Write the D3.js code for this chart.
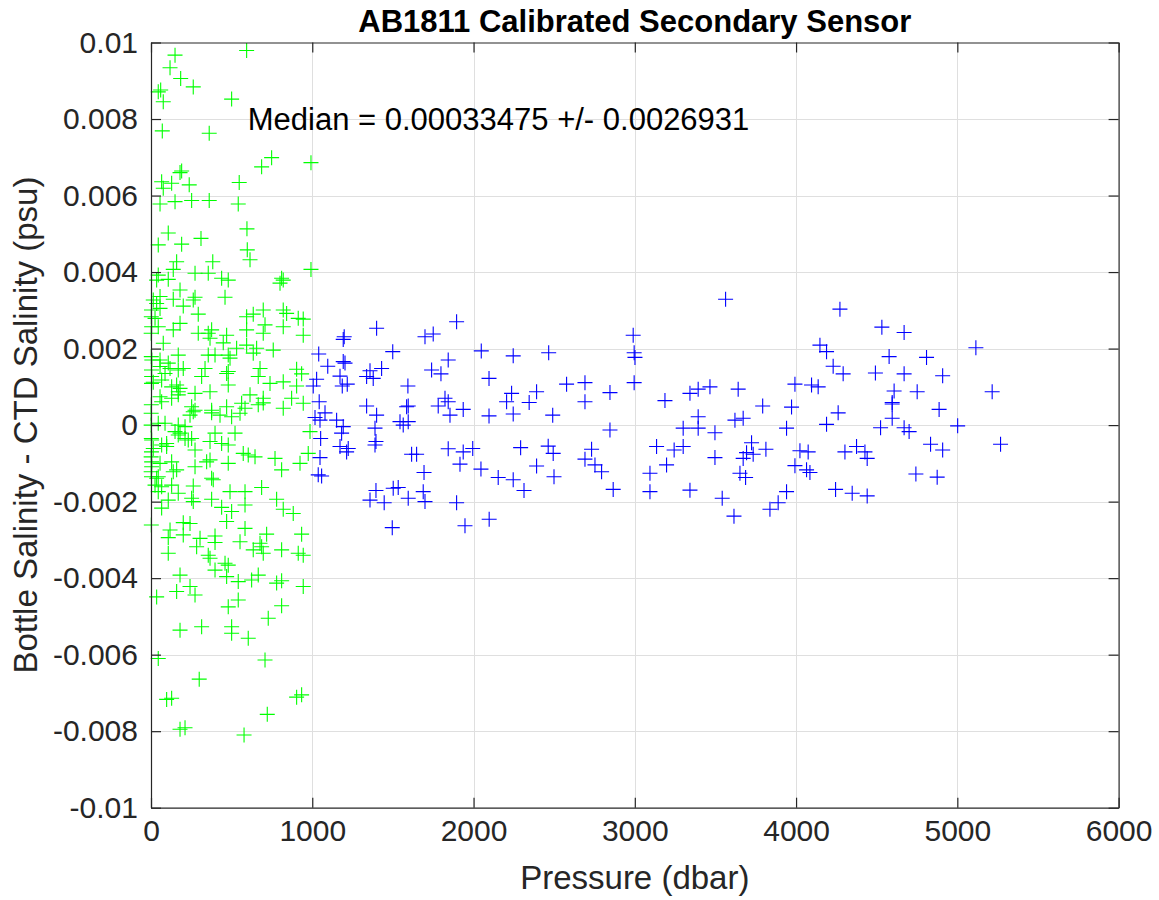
<!DOCTYPE html>
<html>
<head>
<meta charset="utf-8">
<script src="https://cdn.jsdelivr.net/npm/d3@7"></script>
<style>
  html, body { margin: 0; padding: 0; background: #ffffff; }
  svg { display: block; font-family: "Liberation Sans", Arial, Helvetica, sans-serif; }
</style>
</head>
<body>
<svg id="chart" width="1159" height="900"></svg>
<script>
// Residuals [pressure (dbar), bottle - CTD salinity (psu)], upper 1000 dbar
const shallowSamples = [
  [593,0.00979],[149,0.00967],[118,0.00934],[184,0.00906],[262,0.00884],[45,0.00871],[60,0.00876],[76,0.00845],
  [500,0.00852],[70,0.00769],[361,0.00763],[748,0.00699],[686,0.00675],[992,0.00686],[190,0.00664],[180,0.00660],
  [66,0.00636],[76,0.00619],[128,0.00632],[237,0.00628],[547,0.00634],[56,0.00578],[149,0.00584],[252,0.00587],
  [361,0.00587],[541,0.00578],[595,0.00513],[107,0.00502],[310,0.00488],[45,0.00471],[190,0.00473],[597,0.00458],
  [614,0.00432],[159,0.00427],[383,0.00427],[138,0.00407],[992,0.00407],[45,0.00392],[35,0.00379],[107,0.00381],
  [273,0.00397],[355,0.00397],[438,0.00384],[479,0.00379],[810,0.00384],[800,0.00371],[820,0.00379],[180,0.00353],
  [459,0.00334],[14,0.00327],[35,0.00318],[262,0.00327],[273,0.00334],[138,0.00329],[56,0.00336],[56,0.00305],
  [3,0.00301],[200,0.00311],[293,0.00290],[634,0.00290],[696,0.00301],[820,0.00301],[841,0.00292],[913,0.00279],
  [944,0.00277],[593,0.00283],[2,0.00283],[25,0.00279],[180,0.00266],[138,0.00249],[45,0.00257],[4,0.00257],
  [1,0.00240],[293,0.00240],[355,0.00240],[376,0.00249],[469,0.00235],[707,0.00262],[696,0.00240],[593,0.00249],
  [820,0.00257],[944,0.00235],[76,0.00214],[366,0.00227],[448,0.00215],[531,0.00201],[593,0.00209],[655,0.00201],
  [758,0.00196],[2,0.00179],[5,0.00170],[56,0.00170],[169,0.00183],[355,0.00183],[397,0.00183],[479,0.00183],
  [490,0.00175],[634,0.00188],[107,0.00162],[118,0.00148],[200,0.00148],[335,0.00148],[314,0.00127],[469,0.00135],
  [479,0.00140],[676,0.00148],[903,0.00146],[934,0.00134],[665,0.00127],[820,0.00113],[738,0.00109],[903,0.00102],
  [3,0.00109],[14,0.00112],[66,0.00118],[159,0.00105],[479,0.00105],[366,0.00087],[273,0.00083],[169,0.00079],
  [66,0.00061],[614,0.00079],[696,0.00070],[872,0.00070],[944,0.00057],[2,0.00053],[252,0.00048],[273,0.00039],
  [376,0.00039],[469,0.00048],[562,0.00057],[583,0.00044],[665,0.00053],[696,0.00058],[820,0.00044],[1,0.00031],
  [428,0.00026],[500,0.00022],[3,0.00144],[4,0.00127],[56,0.00153],[87,0.00135],[169,0.00144],[180,0.00096],
  [128,0.00100],[56,0.00074],[128,0.00070],[169,0.00087],[262,0.00035],[242,0.00026],[376,0.00032],[552,0.00031],
  [45,0.00005],[87,0.00005],[169,0.00000],[211,-0.00004],[149,-0.00017],[180,-0.00021],[2,-0.00035],[4,-0.00039],
  [66,-0.00052],[97,-0.00048],[231,-0.00039],[397,-0.00021],[366,-0.00043],[521,-0.00021],[438,-0.00048],[479,-0.00052],
  [3,-0.00070],[1,-0.00083],[4,-0.00096],[56,-0.00100],[128,-0.00096],[273,-0.00065],[345,-0.00096],[366,-0.00091],
  [479,-0.00100],[572,-0.00074],[603,-0.00078],[645,-0.00083],[769,-0.00087],[986,-0.00017],[975,-0.00074],[924,-0.00100],
  [810,-0.00117],[159,-0.00117],[138,-0.00122],[273,-0.00109],[45,-0.00135],[35,-0.00139],[3,-0.00135],[376,-0.00139],
  [386,-0.00143],[128,-0.00157],[66,-0.00161],[45,-0.00174],[262,-0.00159],[490,-0.00174],[583,-0.00174],[686,-0.00163],
  [169,-0.00178],[252,-0.00191],[262,-0.00200],[376,-0.00194],[779,-0.00194],[107,-0.00196],[1,0.00000],[169,-0.00026],
  [211,-0.00035],[252,-0.00035],[14,-0.00061],[4,-0.00109],[1,-0.00122],[25,-0.00157],[97,-0.00056],
  [66,-0.00217],[438,-0.00215],[500,-0.00226],[583,-0.00209],[820,-0.00220],[882,-0.00231],[469,-0.00252],[2,-0.00261],
  [200,-0.00255],[242,-0.00257],[118,-0.00274],[200,-0.00287],[304,-0.00296],[397,-0.00290],[397,-0.00307],[583,-0.00270],
  [717,-0.00285],[934,-0.00285],[552,-0.00305],[107,-0.00294],[283,-0.00318],[107,-0.00335],[355,-0.00340],[366,-0.00348],
  [634,-0.00326],[686,-0.00318],[696,-0.00335],[810,-0.00326],[913,-0.00335],[944,-0.00340],[459,-0.00361],[479,-0.00366],
  [397,-0.00379],[180,-0.00392],[469,-0.00396],[541,-0.00409],[624,-0.00405],[665,-0.00392],[779,-0.00413],[810,-0.00407],
  [944,-0.00422],[242,-0.00422],[273,-0.00444],[159,-0.00435],[35,-0.00449],[541,-0.00457],[479,-0.00475],[810,-0.00472],
  [676,-0.00309],[45,-0.00610],[180,-0.00536],[314,-0.00527],[500,-0.00527],[500,-0.00544],[603,-0.00557],[727,-0.00505],
  [707,-0.00614],[299,-0.00664],[97,-0.00717],[128,-0.00714],[903,-0.00711],[934,-0.00705],[721,-0.00756],[180,-0.00795],
  [211,-0.00791],[577,-0.00810]
];

// Residuals below 1000 dbar
const deepSamples = [
  [1006,0.00102],[1017,0.00020],[1027,0.00120],[1040,0.00186],[1043,0.00061],[1048,0.00013],[1052,-0.00035],[1048,-0.00085],
  [1037,-0.00130],[1058,-0.00133],[1079,0.00032],[1096,0.00154],[1172,0.00128],[1186,0.00102],[1217,0.00107],[1192,0.00166],
  [1203,0.00162],[1198,0.00231],[1192,0.00224],[1151,0.00013],[1192,-0.00004],[1182,-0.00021],[1172,-0.00056],[1223,-0.00061],
  [1213,-0.00070],[1399,0.00253],[1358,0.00142],[1430,0.00148],[1337,0.00127],[1378,0.00122],[1337,0.00050],[1399,0.00026],
  [1389,-0.00008],[1395,-0.00043],[1389,-0.00052],[1499,0.00192],[1593,0.00102],[1595,0.00050],[1585,0.00048],[1544,0.00009],
  [1595,0.00009],[1564,0.00000],[1616,-0.00076],[1647,-0.00076],[1693,-0.00124],[1395,-0.00171],[1502,-0.00165],[1533,-0.00163],
  [1358,-0.00196],[1446,-0.00203],[1595,-0.00191],[1688,-0.00174],[1699,-0.00200],[1496,-0.00268],[1699,0.00231],[1750,0.00238],
  [1740,0.00144],[1798,0.00134],[1843,0.00170],[1823,0.00070],[1843,0.00061],[1781,0.00050],[1854,0.00026],[1936,0.00041],
  [1843,-0.00062],[1936,-0.00070],[1995,-0.00061],[1916,-0.00102],[1895,0.00270],[1895,-0.00203],[1947,-0.00263],[2046,-0.00115],
  [2048,0.00194],[2096,0.00122],[2096,0.00024],[2097,-0.00246],[2153,-0.00137],[2246,-0.00143],[2313,-0.00171],[2246,0.00181],
  [2236,0.00083],[2205,0.00061],[2345,0.00059],[2391,0.00087],[2246,0.00029],[2292,-0.00059],[2391,-0.00107],[2463,-0.00055],
  [2494,-0.00074],[2499,-0.00135],[2466,0.00189],[2491,0.00026],[2577,0.00107],[2691,0.00111],[2691,0.00061],[2691,-0.00089],
  [2732,-0.00063],[2753,-0.00104],[2794,-0.00122],[2846,0.00085],[2846,-0.00013],[2866,-0.00168],[2990,0.00235],[2996,0.00189],
  [3001,0.00177],[2996,0.00111],[3135,-0.00056],[3244,-0.00065],[3300,-0.00056],[3197,-0.00104],[3094,-0.00126],[3094,-0.00174],
  [3187,0.00064],[3342,0.00083],[3393,0.00094],[3466,0.00100],[3393,0.00022],[3300,-0.00008],[3393,-0.00008],[3497,-0.00020],
  [3497,-0.00085],[3342,-0.00170],[3542,-0.00191],[3615,-0.00238],[3563,0.00329],[3641,0.00094],[3621,0.00013],[3672,0.00018],
  [3724,-0.00046],[3693,-0.00072],[3734,-0.00076],[3672,-0.00087],[3652,-0.00126],[3687,-0.00137],[3793,0.00050],[3813,-0.00063],
  [3972,0.00047],[3941,-0.00008],[3993,0.00107],[4096,0.00105],[4137,0.00100],[4024,-0.00067],[4075,-0.00070],[3993,-0.00106],
  [4065,-0.00117],[4086,-0.00124],[3941,-0.00174],[3889,-0.00203],[3838,-0.00220],[4148,0.00209],[4189,0.00192],[4230,0.00154],
  [4292,0.00134],[4272,0.00303],[4261,0.00032],[4189,0.00002],[4245,-0.00168],[4348,-0.00178],[4441,-0.00185],[4303,-0.00070],
  [4375,-0.00056],[4427,-0.00070],[4441,-0.00087],[4492,0.00136],[4532,0.00256],[4670,0.00242],[5115,0.00202],[4577,0.00179],
  [4809,0.00177],[4670,0.00134],[4909,0.00129],[4608,0.00089],[4751,0.00087],[5216,0.00087],[4596,0.00059],[4596,0.00055],
  [4887,0.00041],[4596,0.00018],[4524,-0.00007],[4670,-0.00007],[4701,-0.00017],[5002,-0.00002],[4834,-0.00050],[4909,-0.00065],
  [5268,-0.00050],[4743,-0.00128],[4875,-0.00136]
];

const xTicks = [0, 1000, 2000, 3000, 4000, 5000, 6000];
const xTickLabels = ["0", "1000", "2000", "3000", "4000", "5000", "6000"];
const yTicks = [-0.01, -0.008, -0.006, -0.004, -0.002, 0, 0.002, 0.004, 0.006, 0.008, 0.01];
const yTickLabels = ["-0.01", "-0.008", "-0.006", "-0.004", "-0.002", "0", "0.002", "0.004", "0.006", "0.008", "0.01"];

const titleText = "AB1811 Calibrated Secondary Sensor";
const xLabelText = "Pressure (dbar)";
const yLabelText = "Bottle Salinity - CTD Salinity (psu)";
const medianText = "Median = 0.00033475 +/- 0.0026931";

const svg = d3.select("#chart");
const plot = { left: 151, right: 1118.6, top: 42.5, bottom: 807.7 };
const axisColor = "#262626";

const x = d3.scaleLinear().domain([0, 6000]).range([plot.left, plot.right]);
const y = d3.scaleLinear().domain([-0.01, 0.01]).range([plot.bottom, plot.top]);

// grid
const grid = svg.append("g").attr("class", "grid");
grid.selectAll("line.gx").data(xTicks.slice(1, -1)).join("line")
  .attr("x1", d => Math.round(x(d)) + 0.5).attr("x2", d => Math.round(x(d)) + 0.5)
  .attr("y1", plot.top).attr("y2", plot.bottom)
  .attr("stroke", "#dfdfdf").attr("stroke-width", 1);
grid.selectAll("line.gy").data(yTicks.slice(1, -1)).join("line")
  .attr("y1", d => Math.round(y(d)) + 0.5).attr("y2", d => Math.round(y(d)) + 0.5)
  .attr("x1", plot.left).attr("x2", plot.right)
  .attr("stroke", "#dfdfdf").attr("stroke-width", 1);

// markers
const plus = "M-7.5,0H7.5M0,-7.5V7.5";
function drawSeries(data, color) {
  svg.append("g").selectAll("path").data(data).join("path")
    .attr("d", plus)
    .attr("transform", d => `translate(${x(d[0])},${y(d[1])})`)
    .attr("fill", "none")
    .attr("stroke", color)
    .attr("stroke-width", 1.1);
}
drawSeries(shallowSamples, "#00ff00");
drawSeries(deepSamples, "#0000ff");

// axes (inward ticks on all four sides)
function styleAxis(g) {
  g.selectAll("path.domain").attr("stroke", axisColor).attr("stroke-width", 1.2);
  g.selectAll(".tick line").attr("stroke", axisColor).attr("stroke-width", 1.2);
  g.selectAll("text").attr("fill", axisColor)
    .style("font-family", '"Liberation Sans", Arial, Helvetica, sans-serif')
    .style("font-size", "30px");
}

svg.append("g").attr("transform", `translate(0,${plot.bottom})`)
  .call(d3.axisBottom(x).tickValues(xTicks).tickFormat((d, i) => xTickLabels[i])
    .tickSizeInner(-10).tickSizeOuter(0).tickPadding(12))
  .call(styleAxis)
  .call(g => g.selectAll("text").attr("dy", "0.72em"));

svg.append("g").attr("transform", `translate(0,${plot.top})`)
  .call(d3.axisTop(x).tickValues(xTicks).tickFormat("").tickSizeInner(-10).tickSizeOuter(0))
  .call(styleAxis);

svg.append("g").attr("transform", `translate(${plot.left},0)`)
  .call(d3.axisLeft(y).tickValues(yTicks).tickFormat((d, i) => yTickLabels[i])
    .tickSizeInner(-10).tickSizeOuter(0).tickPadding(13))
  .call(styleAxis);

svg.append("g").attr("transform", `translate(${plot.right},0)`)
  .call(d3.axisRight(y).tickValues(yTicks).tickFormat("").tickSizeInner(-10).tickSizeOuter(0))
  .call(styleAxis);

// texts
svg.append("text")
  .attr("x", (plot.left + plot.right) / 2).attr("y", 32)
  .attr("text-anchor", "middle")
  .style("font-size", "31px").style("font-weight", "bold")
  .attr("fill", "#000")
  .text(titleText);

svg.append("text")
  .attr("x", (plot.left + plot.right) / 2).attr("y", 889)
  .attr("text-anchor", "middle")
  .style("font-size", "33px")
  .attr("fill", axisColor)
  .text(xLabelText);

svg.append("text")
  .attr("transform", `translate(37,${(plot.top + plot.bottom) / 2}) rotate(-90)`)
  .attr("text-anchor", "middle")
  .style("font-size", "33px")
  .attr("fill", axisColor)
  .text(yLabelText);

svg.append("text")
  .attr("x", x(600)).attr("y", 130)
  .style("font-size", "31px")
  .attr("fill", "#000")
  .text(medianText);
</script>
</body>
</html>
